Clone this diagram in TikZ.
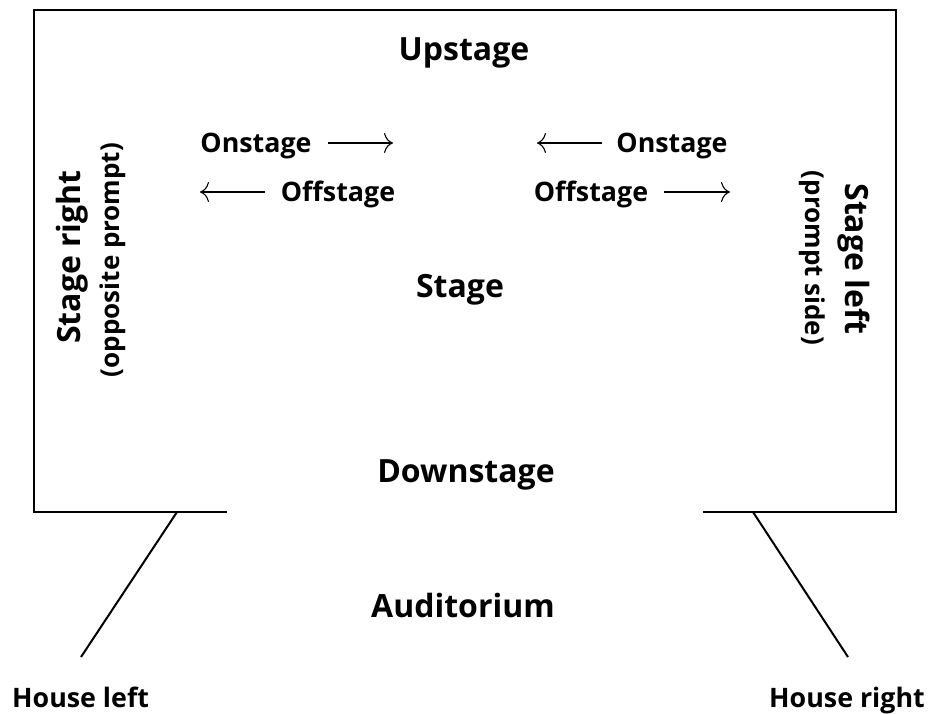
\documentclass[tikz,border=0pt]{standalone}
\usepackage{fontspec}
\setmainfont{Open Sans}
\usetikzlibrary{arrows.meta}
\begin{document}
\begin{tikzpicture}[x=1pt,y=-1pt,
  big/.style={font=\bfseries\fontsize{32}{38}\selectfont, inner sep=0pt},
  mid/.style={font=\bfseries\fontsize{26.8}{32}\selectfont, inner sep=0pt},
  small/.style={font=\bfseries\fontsize{26}{31}\selectfont, inner sep=0pt},
  wall/.style={line width=2.5pt, line cap=rect},
  sight/.style={line width=2pt},
  dirarrow/.style={line width=1.1pt, -{Computer Modern Rightarrow[length=9pt,width=20pt]}}]
\useasboundingbox (0,0) rectangle (932,713);
% stage outline
\coordinate (bl1) at (226,512);
\coordinate (bl) at (34,512);
\coordinate (tl) at (34,10);
\coordinate (tr) at (896,10);
\coordinate (br) at (896,512);
\coordinate (br1) at (704,512);
\draw[wall] (bl1) -- (bl) -- (tl) -- (tr) -- (br) -- (br1);
% sight lines
\coordinate (hl1) at (177,512);
\coordinate (hl2) at (81,657);
\coordinate (hr1) at (753,512);
\coordinate (hr2) at (848,657);
\draw[sight] (hl1) -- (hl2);
\draw[sight] (hr1) -- (hr2);
% main labels
\node[big, anchor=base] (up) at (464,60) {Upstage};
\node[big, anchor=base] (stage) at (460,297) {Stage};
\node[big, anchor=base] (down) at (466,482) {Downstage};
\node[big, anchor=base] (aud) at (463,617) {Auditorium};
\node[mid, anchor=base west] (hleft) at (12,707) {House left};
\node[mid, anchor=base east] (hright) at (925,707) {House right};
% on/offstage
\node[mid, anchor=base] (onL) at (256,152) {Onstage};
\node[mid, anchor=base] (offL) at (338,201) {Offstage};
\node[mid, anchor=base] (onR) at (672,152) {Onstage};
\node[mid, anchor=base] (offR) at (591,201) {Offstage};
\coordinate (a1s) at (328,143); \coordinate (a1e) at (393,143);
\coordinate (a2s) at (265,192); \coordinate (a2e) at (200,192);
\coordinate (a3s) at (602,143); \coordinate (a3e) at (537,143);
\coordinate (a4s) at (664,192); \coordinate (a4e) at (730,192);
\draw[dirarrow] (a1s) -- (a1e);
\draw[dirarrow] (a2s) -- (a2e);
\draw[dirarrow] (a3s) -- (a3e);
\draw[dirarrow] (a4s) -- (a4e);
% side labels
\node[big, rotate=90] (sr) at (72,257) {Stage right};
\node[small, rotate=90] (srs) at (113,260) {(opposite prompt)};
\node[big, rotate=-90] (sl) at (854,259) {Stage left};
\node[small, rotate=-90] (sls) at (812,258) {(prompt side)};
\end{tikzpicture}
\end{document}
